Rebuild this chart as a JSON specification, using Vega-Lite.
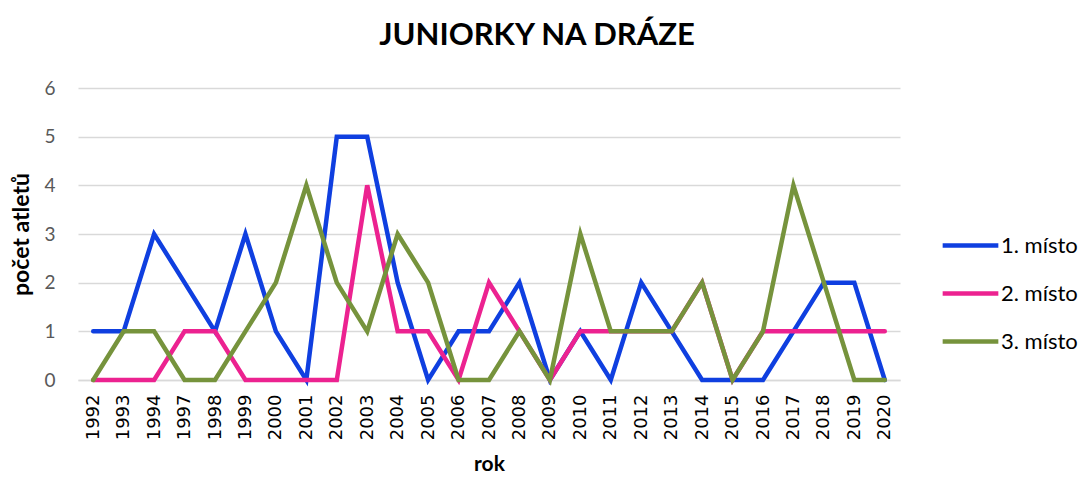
{
  "$schema": "https://vega.github.io/schema/vega-lite/v6.json",
  "width": 822,
  "height": 292,
  "autosize": {"type": "none"},
  "padding": {"left": 78, "top": 88, "right": 178, "bottom": 97},
  "background": "white",
  "title": {
    "text": "JUNIORKY NA DRÁZE",
    "font": "Lato",
    "fontSize": 31,
    "fontWeight": "bold",
    "color": "#000000",
    "anchor": "middle",
    "frame": "group",
    "dx": 48,
    "offset": 27
  },
  "config": {
    "view": {"stroke": null},
    "font": "Lato"
  },
  "datasets": {
    "d": [
      {"rok": "1992", "m": "1. místo", "v": 1}, {"rok": "1993", "m": "1. místo", "v": 1}, {"rok": "1994", "m": "1. místo", "v": 3},
      {"rok": "1997", "m": "1. místo", "v": 2}, {"rok": "1998", "m": "1. místo", "v": 1}, {"rok": "1999", "m": "1. místo", "v": 3},
      {"rok": "2000", "m": "1. místo", "v": 1}, {"rok": "2001", "m": "1. místo", "v": 0}, {"rok": "2002", "m": "1. místo", "v": 5},
      {"rok": "2003", "m": "1. místo", "v": 5}, {"rok": "2004", "m": "1. místo", "v": 2}, {"rok": "2005", "m": "1. místo", "v": 0},
      {"rok": "2006", "m": "1. místo", "v": 1}, {"rok": "2007", "m": "1. místo", "v": 1}, {"rok": "2008", "m": "1. místo", "v": 2},
      {"rok": "2009", "m": "1. místo", "v": 0}, {"rok": "2010", "m": "1. místo", "v": 1}, {"rok": "2011", "m": "1. místo", "v": 0},
      {"rok": "2012", "m": "1. místo", "v": 2}, {"rok": "2013", "m": "1. místo", "v": 1}, {"rok": "2014", "m": "1. místo", "v": 0},
      {"rok": "2015", "m": "1. místo", "v": 0}, {"rok": "2016", "m": "1. místo", "v": 0}, {"rok": "2017", "m": "1. místo", "v": 1},
      {"rok": "2018", "m": "1. místo", "v": 2}, {"rok": "2019", "m": "1. místo", "v": 2}, {"rok": "2020", "m": "1. místo", "v": 0},

      {"rok": "1992", "m": "2. místo", "v": 0}, {"rok": "1993", "m": "2. místo", "v": 0}, {"rok": "1994", "m": "2. místo", "v": 0},
      {"rok": "1997", "m": "2. místo", "v": 1}, {"rok": "1998", "m": "2. místo", "v": 1}, {"rok": "1999", "m": "2. místo", "v": 0},
      {"rok": "2000", "m": "2. místo", "v": 0}, {"rok": "2001", "m": "2. místo", "v": 0}, {"rok": "2002", "m": "2. místo", "v": 0},
      {"rok": "2003", "m": "2. místo", "v": 4}, {"rok": "2004", "m": "2. místo", "v": 1}, {"rok": "2005", "m": "2. místo", "v": 1},
      {"rok": "2006", "m": "2. místo", "v": 0}, {"rok": "2007", "m": "2. místo", "v": 2}, {"rok": "2008", "m": "2. místo", "v": 1},
      {"rok": "2009", "m": "2. místo", "v": 0}, {"rok": "2010", "m": "2. místo", "v": 1}, {"rok": "2011", "m": "2. místo", "v": 1},
      {"rok": "2012", "m": "2. místo", "v": 1}, {"rok": "2013", "m": "2. místo", "v": 1}, {"rok": "2014", "m": "2. místo", "v": 2},
      {"rok": "2015", "m": "2. místo", "v": 0}, {"rok": "2016", "m": "2. místo", "v": 1}, {"rok": "2017", "m": "2. místo", "v": 1},
      {"rok": "2018", "m": "2. místo", "v": 1}, {"rok": "2019", "m": "2. místo", "v": 1}, {"rok": "2020", "m": "2. místo", "v": 1},

      {"rok": "1992", "m": "3. místo", "v": 0}, {"rok": "1993", "m": "3. místo", "v": 1}, {"rok": "1994", "m": "3. místo", "v": 1},
      {"rok": "1997", "m": "3. místo", "v": 0}, {"rok": "1998", "m": "3. místo", "v": 0}, {"rok": "1999", "m": "3. místo", "v": 1},
      {"rok": "2000", "m": "3. místo", "v": 2}, {"rok": "2001", "m": "3. místo", "v": 4}, {"rok": "2002", "m": "3. místo", "v": 2},
      {"rok": "2003", "m": "3. místo", "v": 1}, {"rok": "2004", "m": "3. místo", "v": 3}, {"rok": "2005", "m": "3. místo", "v": 2},
      {"rok": "2006", "m": "3. místo", "v": 0}, {"rok": "2007", "m": "3. místo", "v": 0}, {"rok": "2008", "m": "3. místo", "v": 1},
      {"rok": "2009", "m": "3. místo", "v": 0}, {"rok": "2010", "m": "3. místo", "v": 3}, {"rok": "2011", "m": "3. místo", "v": 1},
      {"rok": "2012", "m": "3. místo", "v": 1}, {"rok": "2013", "m": "3. místo", "v": 1}, {"rok": "2014", "m": "3. místo", "v": 2},
      {"rok": "2015", "m": "3. místo", "v": 0}, {"rok": "2016", "m": "3. místo", "v": 1}, {"rok": "2017", "m": "3. místo", "v": 4},
      {"rok": "2018", "m": "3. místo", "v": 2}, {"rok": "2019", "m": "3. místo", "v": 0}, {"rok": "2020", "m": "3. místo", "v": 0}
    ]
  },
  "data": {"name": "d"},
  "mark": {"type": "line", "strokeWidth": 4.5, "strokeJoin": "miter", "strokeCap": "round"},
  "encoding": {
    "x": {
      "field": "rok",
      "type": "ordinal",
      "sort": null,
      "scale": {"type": "point", "padding": 0.5},
      "axis": {
        "title": "rok",
        "titleFont": "Lato",
        "titleFontSize": 21,
        "titleFontWeight": "bold",
        "titleColor": "#000000",
        "titlePadding": 14,
        "labelAngle": -90,
        "labelFont": "DejaVu Sans",
        "labelFontSize": 18,
        "labelColor": "#000000",
        "labelPadding": 14,
        "domain": true,
        "domainColor": "#d9d9d9",
        "domainWidth": 1.5,
        "ticks": false,
        "grid": false
      }
    },
    "y": {
      "field": "v",
      "type": "quantitative",
      "scale": {"domain": [0, 6], "nice": false},
      "axis": {
        "title": "počet atletů",
        "titleFont": "Lato",
        "titleFontSize": 23,
        "titleFontWeight": "bold",
        "titleColor": "#000000",
        "titlePadding": 10,
        "values": [0, 1, 2, 3, 4, 5, 6],
        "labelFont": "Lato",
        "labelFontSize": 19,
        "labelColor": "#595959",
        "labelPadding": 23,
        "domain": false,
        "ticks": false,
        "grid": true,
        "gridColor": "#d9d9d9",
        "gridWidth": 1.5
      }
    },
    "color": {
      "field": "m",
      "type": "nominal",
      "scale": {"domain": ["1. místo", "2. místo", "3. místo"], "range": ["#0f3fe0", "#ec2290", "#76933c"]},
      "legend": {
        "title": null,
        "orient": "none",
        "legendX": 862,
        "legendY": 127,
        "symbolType": "stroke",
        "symbolStrokeWidth": 4.5,
        "symbolSize": 3100,
        "labelFont": "Lato",
        "labelFontSize": 22,
        "labelColor": "#000000",
        "labelOffset": 0,
        "rowPadding": 6
      }
    }
  }
}
